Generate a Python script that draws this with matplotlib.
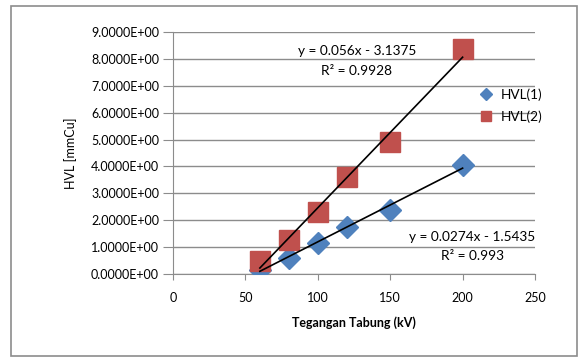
import matplotlib
matplotlib.use("Agg")
import matplotlib.pyplot as plt
from matplotlib.patches import Rectangle
from matplotlib.ticker import FuncFormatter, MultipleLocator
import numpy as np

plt.rcParams['font.family'] = ['Lato', 'DejaVu Sans']

# tube voltage (kV) and measured half value layers (mm Cu)
kv = [60, 80, 100, 120, 150, 200]
hvl1 = [0.15, 0.60, 1.15, 1.75, 2.38, 4.05]
hvl2 = [0.48, 1.26, 2.30, 3.60, 4.90, 8.36]

# linear trendlines (slope, intercept, r squared)
fit1 = (0.0274, -1.5435, 0.993)
fit2 = (0.056, -3.1375, 0.9928)

BLUE = "#4F81BD"
RED = "#C0504D"
GRID = "#8C8C8C"

fig = plt.figure(figsize=(5.87, 3.61), dpi=100)
fig.patches.append(Rectangle((11/587, 1-356/361), 566/587, 350/361,
                             transform=fig.transFigure, fill=False,
                             edgecolor="#8C8C8C", linewidth=1.2))

ax = fig.add_axes([173/587, 1-274/361, 362/587, 242/361])

ax.plot(kv, hvl1, linestyle="", marker="D", markersize=11.5, color=BLUE,
        label="HVL(1)", zorder=3)
ax.plot(kv, hvl2, linestyle="", marker="s", markersize=14, color=RED,
        label="HVL(2)", zorder=3)

xs = np.array([kv[0], kv[-1]])
for slope, icpt, r2 in (fit1, fit2):
    ax.plot(xs, slope*xs + icpt, color="black", linewidth=1.2, zorder=4)

ax.text(127, 8.29, "y = 0.056x - 3.1375", ha="center", va="center", fontsize=9.8)
ax.text(127, 7.55, "R² = 0.9928", ha="center", va="center", fontsize=9.8)
ax.text(206.5, 1.38, "y = 0.0274x - 1.5435", ha="center", va="center", fontsize=9.8)
ax.text(206.5, 0.67, "R² = 0.993", ha="center", va="center", fontsize=9.8)

ax.set_xlim(0, 250)
ax.set_ylim(0, 9)
ax.xaxis.set_major_locator(MultipleLocator(50))
ax.yaxis.set_major_locator(MultipleLocator(1))
ax.yaxis.set_major_formatter(FuncFormatter(lambda v, i: "%.4fE+00" % v))
ax.yaxis.grid(True, color=GRID, linewidth=1)
ax.set_axisbelow(True)

for s in ("top", "right"):
    ax.spines[s].set_visible(False)
for s in ("left", "bottom"):
    ax.spines[s].set_color(GRID)
ax.tick_params(colors=GRID, labelcolor="black", labelsize=9)
ax.tick_params(axis="y", length=7, pad=3)
ax.tick_params(axis="x", length=4, pad=9)

ax.set_xlabel("Tegangan Tabung (kV)", fontsize=9, fontweight="bold", labelpad=9)
ax.set_ylabel("HVL [mmCu]", fontsize=9, labelpad=10)

ax.legend(loc="upper left", bbox_to_anchor=(0.835, 0.79), frameon=False,
          fontsize=9.8, handletextpad=0.7, markerscale=0.5,
          handlelength=0.8, borderaxespad=0, labelspacing=0.7)

fig.savefig("out.png", dpi=100)
